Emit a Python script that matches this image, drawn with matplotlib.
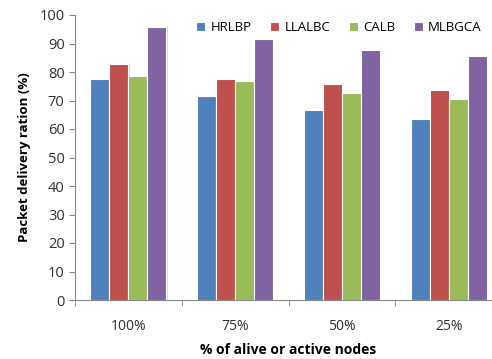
import numpy as np
import matplotlib
matplotlib.use("Agg")
import matplotlib.pyplot as plt

categories = ["100%", "75%", "50%", "25%"]
series = ["HRLBP", "LLALBC", "CALB", "MLBGCA"]
hrlbp = [77.5, 71.7, 66.8, 63.5]
llalbc = [82.7, 77.5, 75.8, 73.7]
calb = [78.6, 76.8, 72.6, 70.5]
mlbgca = [95.8, 91.6, 87.6, 85.6]
colors = ["#4F81BD", "#C0504D", "#9BBB59", "#8064A2"]

plt.rcParams['font.family'] = ['Open Sans', 'DejaVu Sans']

fig = plt.figure(figsize=(4.92, 3.59), dpi=100)
ax = fig.add_axes([75 / 492, 59 / 359, 427 / 492, 285 / 359])

x = np.arange(len(categories))
w = 0.178
for i, (name, vals) in enumerate(zip(series, [hrlbp, llalbc, calb, mlbgca])):
    pos = x + (i - 1.5) * w
    # faint shadow
    ax.bar(pos + 0.012, vals, w, color="#d9d9d9", zorder=1)
    ax.bar(pos, vals, w, color=colors[i], edgecolor="white", linewidth=0.8,
           label=name, zorder=2)

ax.set_xlim(-0.5, 3.5)
ax.set_ylim(0, 100)
ax.set_yticks(range(0, 101, 10))
ax.set_xticks(x)
ax.set_xticklabels(categories)
ax.set_xticks(np.arange(-0.5, 3.6, 1), minor=True)
ax.tick_params(axis="x", which="major", length=0, pad=14, labelsize=10, labelcolor="#303030")
ax.tick_params(axis="x", which="minor", length=4, color="#868686")
ax.tick_params(axis="y", length=4, color="#868686", labelsize=10.5, labelcolor="#303030")
for s in ["top", "right"]:
    ax.spines[s].set_visible(False)
for s in ["left", "bottom"]:
    ax.spines[s].set_color("#868686")

ax.set_xlabel("% of alive or active nodes", fontsize=10, fontweight="bold", labelpad=6)
ax.set_ylabel("Packet delivery ration (%)", fontsize=9.5, fontweight="bold", labelpad=6)

ax.legend(loc="upper left", bbox_to_anchor=(0.255, 1.02), ncol=4, frameon=False,
          fontsize=9.5, handlelength=0.7, handleheight=0.7, handletextpad=0.4,
          columnspacing=1.4)

fig.savefig("out.png", dpi=100)
